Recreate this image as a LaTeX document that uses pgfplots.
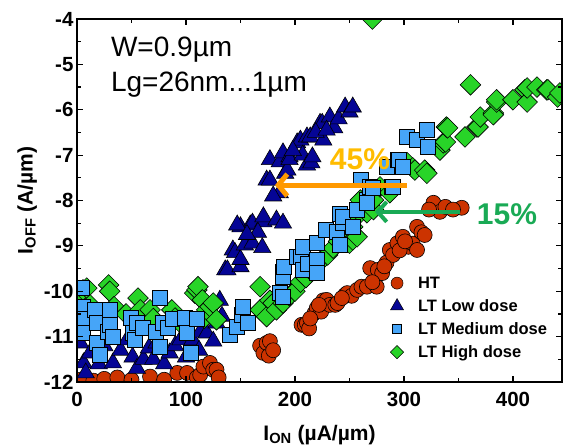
\documentclass[border=0pt]{standalone}
\usepackage{fontspec}
\setmainfont{Liberation Sans}
\usepackage{pgfplots}
\pgfplotsset{compat=1.18}
\usetikzlibrary{arrows.meta}
\definecolor{htcol}{RGB}{204,51,0}
\definecolor{lowcol}{RGB}{5,5,150}
\definecolor{medcol}{RGB}{70,165,248}
\definecolor{highcol}{RGB}{40,212,40}
\definecolor{arrorange}{RGB}{255,153,0}
\definecolor{txtorange}{RGB}{255,188,0}
\definecolor{arrgreen}{RGB}{25,170,85}
\begin{document}
\begin{tikzpicture}
\begin{axis}[
  scale only axis, width=485pt, height=363pt,
  xmin=0, xmax=445, ymin=-12, ymax=-4,
  xtick={0,100,200,300,400}, xticklabels={0,100,200,300,400},
  minor xtick={50,150,250,350},
  ytick={-12,-11,-10,-9,-8,-7,-6,-5,-4},
  yticklabels={-12,-11,-10,-9,-8,-7,-6,-5,-4},
  minor ytick={-11.5,-10.5,-9.5,-8.5,-7.5,-6.5,-5.5,-4.5},
  major tick length=6pt, minor tick length=4pt,
  tick style={line width=1.2pt, black},
  axis line style={line width=1.8pt},
  ticklabel style={font=\bfseries\fontsize{20.5}{20.5}\selectfont},
  xticklabel style={yshift=-7pt},
  xlabel={I\textsubscript{ON} (µA/µm)},
  ylabel={I\textsubscript{OFF} (A/µm)},
  label style={font=\bfseries\fontsize{21}{21}\selectfont},
  xlabel style={yshift=-11pt},
  axis on top,
  clip marker paths=true,
  legend image code/.code={\draw[#1] plot coordinates {(0pt,0pt)}; \path[draw=none,fill=none] (-8pt,-8pt) rectangle (20pt,8pt);},
  legend style={at={(0.643,0.295)}, anchor=north west, draw=none, fill=none,
    font=\bfseries\fontsize{16.5}{16.5}\selectfont, row sep=7pt, inner sep=0pt,
    nodes={inner sep=1pt}},
  legend cell align=left,
]
\addlegendimage{only marks, mark=*, mark size=6pt, mark options={fill=htcol,draw=black,line width=0.5pt}}
\addlegendimage{only marks, mark=triangle*, mark size=7.5pt, mark options={fill=lowcol,draw=black,line width=0.5pt}}
\addlegendimage{only marks, mark=square*, mark size=4.4pt, mark options={fill=medcol,draw=black,line width=0.5pt}}
\addlegendimage{only marks, mark=square*, mark size=4.7pt, mark options={fill=highcol,draw=black,line width=0.5pt,rotate=45}}
\legend{HT, LT Low dose, LT Medium dose, LT High dose}

% HT
\addplot[forget plot, only marks, mark=*, mark size=7.5pt, mark options={fill=htcol,draw=black,line width=0.6pt}] coordinates {
(3,-11.95) (15,-11.97) (25,-11.93) (37,-11.9) (50,-11.95) (67,-11.88) (80,-11.95)
(92,-11.8) (101,-11.8) (110,-11.9) (113,-11.84) (116,-11.66) (122,-11.58) (125,-11.73)
(128,-11.73) (130,-11.9) (168,-11.2) (171,-11.36) (174,-11.14) (177,-11.1) (176,-11.42)
(180,-11.3) (206,-10.74) (209,-10.74) (211,-10.7) (213,-10.82) (218,-10.48) (220,-10.37)
(224,-10.45) (226,-10.2) (229,-10.19) (232,-10.3) (237,-10.3) (239,-10.26) (246,-10.08)
(248,-10.04) (252,-10.1) (257,-9.97) (261,-9.9) (266,-9.9) (269,-9.49) (275,-9.9)
(276,-9.53) (280,-9.6) (284,-9.37) (287,-9.09) (290,-9.2) (294,-8.94) (299,-8.8)
(304,-9.02) (308,-8.95) (312,-9.09) (312,-8.58) (316,-8.7) (319,-8.76) (327,-8.05)
(333,-8.25) (338,-8.14) (353,-8.16)
(214,-10.6) (222,-10.3) (243,-10.15) (271,-9.8) (282,-9.45) (296,-9.1) (301,-8.9) (323,-8.2) (345,-8.2)
};
% LT Low dose
\addplot[forget plot, only marks, mark=triangle*, mark size=10pt, mark options={fill=lowcol,draw=black,line width=0.6pt}] coordinates {
(3,-11.14) (6,-11.58) (8,-11.8) (12,-11.36) (20,-11.6) (25,-11.2) (33,-11.58) (40,-11.3)
(46,-11.07) (51,-11.45) (55,-11.7) (61,-11.5) (66,-11.25) (70,-11.5) (73,-11.14) (80,-11.6)
(85,-11.36) (90,-11.2) (95,-11.07) (100,-11.45) (106,-11.07) (112,-11.3) (113,-10.9)
(119,-10.92) (125,-11.1) (128,-10.7) (131,-10.2) (133,-10.55)
(136,-9.53) (138,-9.53) (143,-9.09) (145,-9.15) (150,-9.46) (150,-9.3) (150,-8.58)
(154,-8.98) (159,-8.54) (161,-8.94) (161,-8.5) (147,-8.54) (170,-9.04) (171,-8.47)
(171,-8.36) (174,-7.55) (177,-7.1) (177,-7.55) (183,-8.43) (186,-7.83) (186,-7.15)
(189,-8.5) (189,-6.95) (191,-7.4) (193,-7.33) (195,-7.04) (195,-7.1) (202,-6.73)
(205,-6.67) (207,-7.0) (211,-6.6) (211,-7.22) (214,-6.6) (215,-7.17) (216,-7.04)
(223,-6.3) (225,-6.3) (226,-6.67) (232,-6.16) (236,-6.4) (240,-6.2) (246,-5.94)
(250,-6.05) (253,-5.94)
(180,-7.9) (198,-6.9) (219,-6.5) (229,-6.45) (166,-8.7) (156,-8.75)
};
% LT High dose
\addplot[forget plot, only marks, mark=square*, mark size=7.3pt, mark options={fill=highcol,draw=black,line width=0.6pt,rotate=45}] coordinates {
(1,-10.23) (5.5,-9.97) (9,-9.93) (12,-10.3) (29,-9.86) (30,-10.0) (34,-10.34) (45,-10.5)
(56,-10.15) (58,-10.41) (67,-10.41) (70,-10.6) (87,-10.41) (90,-10.59) (95,-10.7)
(108,-10.04) (110,-9.97) (111,-9.9) (115,-10.19) (116,-10.56) (117,-10.59) (119,-10.41)
(122,-10.34) (125,-10.26) (128,-10.63)
(168,-9.9) (168,-10.41) (174,-10.56) (177,-10.2) (180,-10.26) (183,-10.41) (189,-10.26)
(195,-10.1) (200,-10.0) (205,-9.8) (210,-9.7) (215,-9.55) (220,-9.4) (225,-9.3)
(230,-9.2) (235,-9.05) (240,-8.9) (245,-8.85) (250,-8.94) (253,-8.58) (253,-8.87)
(253,-8.36) (257,-8.8) (260,-8.27) (260,-7.99) (266,-8.27) (272,-8.2) (272,-7.99)
(278,-7.7) (287,-7.83) (303,-7.17) (308,-7.28) (310,-7.33) (319,-7.33) (321,-7.4)
(333,-6.89) (336,-6.73) (338,-6.71) (339,-6.38) (340,-6.4) (356,-6.6) (361,-5.45)
(367,-6.38) (368,-6.38) (370,-6.16) (382,-6.07) (382,-6.11) (385,-5.83) (385,-5.78)
(400,-5.78) (411,-5.56) (413,-5.83) (413,-5.52) (422,-5.5) (431,-5.56) (432,-5.56)
(441,-5.72) (443,-5.63) (446,-5.28) (271,-4.0)
};
% LT Medium dose
\addplot[forget plot, only marks, mark=square*, mark size=7.5pt, mark options={fill=medcol,draw=black,line width=0.6pt}] coordinates {
(4.6,-9.93) (5.5,-10.34) (6,-10.6) (5.5,-10.92) (16.5,-10.41) (18,-10.7) (18,-11.14)
(21,-11.4) (28,-10.9) (30,-10.41) (30,-10.74) (33,-11.0) (49,-10.59) (51,-10.92)
(53,-11.07) (55,-10.7) (60,-10.8) (72,-10.89) (76,-10.15) (76,-11.22) (79,-10.7)
(83,-10.81) (88,-10.6) (99,-10.59) (101,-10.92) (104,-11.36) (110,-10.6) (140,-10.96)
(147,-10.78) (151,-10.52) (152,-10.34) (157,-10.7)
(186,-10.04) (189,-10.12) (189,-9.57) (189,-9.68) (190,-9.46) (202,-9.24) (205,-9.24)
(207,-9.53) (207,-9.02) (212,-9.4) (220,-9.31) (220,-9.6) (220,-8.94) (228,-8.65)
(238,-8.69) (241,-8.98) (241,-8.3) (244,-8.5) (244,-8.36) (253,-8.58) (257,-8.2)
(260,-7.55) (266,-7.99) (266,-8.05) (269,-7.7) (271,-7.72) (284,-7.26) (289,-7.7)
(290,-7.7) (294,-7.1) (295,-7.1) (299,-7.26) (303,-6.6) (312,-6.67) (321,-6.44)
(322,-6.82)
};
\node[anchor=west, font=\fontsize{28}{28}\selectfont] at (axis cs:28,-4.68) {W=0.9µm};
\node[anchor=west, font=\fontsize{28}{28}\selectfont] at (axis cs:28,-5.45) {Lg=26nm...1µm};
\draw[color=arrorange, line width=5pt, -{Straight Barb[length=9pt,width=22pt]}] (axis cs:302.7,-7.66) -- (axis cs:181.7,-7.66);
\draw[color=arrgreen, line width=4pt, -{Straight Barb[length=9pt,width=20pt]}] (axis cs:351.4,-8.25) -- (axis cs:273.4,-8.25);
\node[font=\bfseries\fontsize{30}{30}\selectfont, text=txtorange] at (axis cs:259.6,-7.08) {45\%};
\node[font=\bfseries\fontsize{30}{30}\selectfont, text=arrgreen] at (axis cs:394.5,-8.30) {15\%};
\end{axis}
\pgfresetboundingbox
\path[use as bounding box] (-77pt,-65pt) rectangle (487pt,382pt);
\end{tikzpicture}
\end{document}
